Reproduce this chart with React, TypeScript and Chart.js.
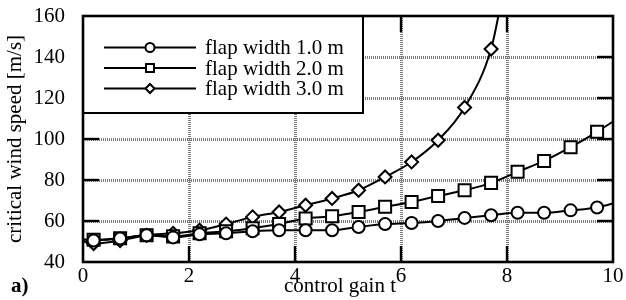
import React, { useEffect, useRef } from 'react';
import { Chart, registerables } from 'chart.js';

Chart.register(...registerables);

const FONT = '"Liberation Serif", "Times New Roman", serif';

const seriesLabels = ['flap width 1.0 m', 'flap width 2.0 m', 'flap width 3.0 m'];

const t1 = [0, 0.2, 0.7, 1.2, 1.7, 2.2, 2.7, 3.2, 3.7, 4.2, 4.7, 5.2, 5.7, 6.2, 6.7, 7.2, 7.7, 8.2, 8.7, 9.2, 9.7, 10];
const v1 = [51, 50.5, 51.5, 53, 52, 53.5, 54, 55, 55.5, 55.5, 55.5, 57.1, 58.5, 59, 60, 61.5, 62.8, 64, 64, 65.2, 66.6, 68.5];

const t2 = [0, 0.2, 0.7, 1.2, 1.7, 2.2, 2.7, 3.2, 3.7, 4.2, 4.7, 5.2, 5.7, 6.2, 6.7, 7.2, 7.7, 8.2, 8.7, 9.2, 9.7, 10];
const v2 = [51, 50.8, 51.6, 53, 52.5, 54, 55, 56.5, 58.5, 61.2, 62.3, 64.4, 66.9, 69.3, 72.2, 75, 78.6, 84, 89.3, 96, 103.5, 108.5];

const t3 = [0, 0.2, 0.7, 1.2, 1.7, 2.2, 2.7, 3.2, 3.7, 4.2, 4.7, 5.2, 5.7, 6.2, 6.7, 7.2, 7.7, 7.9];
const v3 = [50, 49, 50.5, 53, 54, 55.5, 58.5, 62, 64.4, 67.7, 71, 75, 81.5, 88.8, 99.4, 115.4, 143.9, 168];

const xTitle = 'control gain t';
const yTitle = 'critical wind speed [m/s]';
const panelLabel = 'a)';

const markerStyles = ['circle', 'rect', 'rectRot'];
const markerRadius = [6, 8.5, 6.5];
const legendMarkerSize = [4.5, 4, 4.5];

function drawMarker(ctx: CanvasRenderingContext2D, style: string, x: number, y: number, r: number) {
  ctx.beginPath();
  if (style === 'circle') {
    ctx.arc(x, y, r, 0, Math.PI * 2);
  } else if (style === 'rect') {
    ctx.rect(x - r, y - r, 2 * r, 2 * r);
  } else {
    ctx.moveTo(x, y - r);
    ctx.lineTo(x + r, y);
    ctx.lineTo(x, y + r);
    ctx.lineTo(x - r, y);
    ctx.closePath();
  }
  ctx.fillStyle = '#fff';
  ctx.fill();
  ctx.stroke();
}

const framePlugin = {
  id: 'framePlugin',
  beforeDatasetsDraw(chart: any) {
    const { ctx, chartArea: a, scales } = chart;
    const xs = scales.x, ys = scales.y;
    ctx.save();
    ctx.strokeStyle = '#7a7a7a';
    ctx.lineWidth = 3;
    ctx.setLineDash([1, 1]);
    xs.ticks.forEach((tk: any) => {
      const px = Math.round(xs.getPixelForValue(tk.value)) + 0.5;
      if (Math.abs(px - a.left) < 2 || Math.abs(px - a.right) < 2) return;
      ctx.beginPath(); ctx.moveTo(px, a.top); ctx.lineTo(px, a.bottom); ctx.stroke();
    });
    ys.ticks.forEach((tk: any) => {
      const py = Math.round(ys.getPixelForValue(tk.value)) + 0.5;
      if (Math.abs(py - a.top) < 2 || Math.abs(py - a.bottom) < 2) return;
      ctx.beginPath(); ctx.moveTo(a.left, py); ctx.lineTo(a.right, py); ctx.stroke();
    });
    ctx.restore();
  },
  afterDatasetsDraw(chart: any) {
    const { ctx, chartArea: a, scales } = chart;
    const xs = scales.x, ys = scales.y;
    ctx.save();
    // legend box
    const bx0 = a.left, by0 = a.top, bx1 = a.left + 280, by1 = a.top + 97;
    ctx.fillStyle = '#fff';
    ctx.fillRect(bx0, by0, bx1 - bx0, by1 - by0);
    ctx.strokeStyle = '#000';
    ctx.lineWidth = 2;
    ctx.strokeRect(bx0, by0, bx1 - bx0, by1 - by0);
    const rows = [31.5, 52, 72.5];
    ctx.font = '21px ' + FONT;
    ctx.textBaseline = 'alphabetic';
    ctx.textAlign = 'left';
    chart.data.datasets.forEach((ds: any, i: number) => {
      const ry = a.top + rows[i];
      ctx.strokeStyle = '#000';
      ctx.lineWidth = 2;
      ctx.beginPath(); ctx.moveTo(a.left + 21, ry); ctx.lineTo(a.left + 113, ry); ctx.stroke();
      drawMarker(ctx, markerStyles[i], a.left + 67, ry, legendMarkerSize[i]);
      ctx.fillStyle = '#000';
      ctx.fillText(ds.label, a.left + 122, ry + 6.5);
    });
    // frame
    ctx.strokeStyle = '#000';
    ctx.lineWidth = 2.6;
    ctx.strokeRect(a.left, a.top, a.right - a.left, a.bottom - a.top);
    // inner ticks
    const tl = 16;
    ctx.lineWidth = 2.4;
    xs.ticks.forEach((tk: any) => {
      const px = xs.getPixelForValue(tk.value);
      if (Math.abs(px - a.left) < 2 || Math.abs(px - a.right) < 2) return;
      ctx.beginPath(); ctx.moveTo(px, a.bottom); ctx.lineTo(px, a.bottom - tl); ctx.stroke();
      if (px > bx1 + 2) { ctx.beginPath(); ctx.moveTo(px, a.top); ctx.lineTo(px, a.top + tl); ctx.stroke(); }
    });
    ys.ticks.forEach((tk: any) => {
      const py = ys.getPixelForValue(tk.value);
      if (Math.abs(py - a.top) < 2 || Math.abs(py - a.bottom) < 2) return;
      if (py > by1 + 2) { ctx.beginPath(); ctx.moveTo(a.left, py); ctx.lineTo(a.left + tl, py); ctx.stroke(); }
      ctx.beginPath(); ctx.moveTo(a.right, py); ctx.lineTo(a.right - tl, py); ctx.stroke();
    });
    // titles
    ctx.fillStyle = '#000';
    ctx.font = '21px ' + FONT;
    ctx.textAlign = 'center';
    ctx.textBaseline = 'alphabetic';
    ctx.fillText(xTitle, 340, 292);
    ctx.save();
    ctx.translate(21, (a.top + a.bottom) / 2);
    ctx.rotate(-Math.PI / 2);
    ctx.fillText(yTitle, 0, 0);
    ctx.restore();
    ctx.font = 'bold 21px ' + FONT;
    ctx.textAlign = 'left';
    ctx.fillText(panelLabel, 11, 292);
    ctx.restore();
  },
};

function makeData(ts: number[], vs: number[]) {
  return ts.map((t, i) => ({ x: t, y: vs[i] }));
}

export default function App() {
  const ref = useRef<HTMLCanvasElement | null>(null);
  useEffect(() => {
    document.body.style.margin = '0';
    const canvas = ref.current;
    if (!canvas) return;
    const series = [
      [t1, v1],
      [t2, v2],
      [t3, v3],
    ];
    const datasets = series.map(([ts, vs], i) => ({
      label: seriesLabels[i],
      data: makeData(ts as number[], vs as number[]),
      borderColor: '#000',
      borderWidth: 2,
      backgroundColor: '#fff',
      pointBackgroundColor: '#fff',
      pointBorderColor: '#000',
      pointBorderWidth: 2,
      pointStyle: markerStyles[i],
      pointRadius: (c: any) => (c.dataIndex === 0 || c.dataIndex === ts.length - 1 ? 0 : markerRadius[i]),
      tension: 0.2,
      cubicInterpolationMode: 'monotone',
      fill: false,
    }));
    const chart = new Chart(canvas, {
      type: 'line',
      data: { datasets: datasets as any },
      options: {
        animation: false,
        responsive: false,
        devicePixelRatio: 1,
        layout: { padding: { top: 16, right: 13, left: 0, bottom: 0 } },
        plugins: { legend: { display: false }, tooltip: { enabled: false } },
        scales: {
          x: {
            type: 'linear',
            min: 0,
            max: 10,
            ticks: { stepSize: 2, color: '#000', font: { family: FONT, size: 21 }, padding: 2, maxRotation: 0 },
            grid: { display: false, drawTicks: false },
            border: { display: false },
            afterFit: (s: any) => { s.height = 38; s.paddingLeft = 0; s.paddingRight = 0; },
          },
          y: {
            type: 'linear',
            min: 40,
            max: 160,
            ticks: { stepSize: 20, color: '#000', font: { family: FONT, size: 21 }, padding: 18 },
            grid: { display: false, drawTicks: false },
            border: { display: false },
            afterFit: (s: any) => { s.width = 83; s.paddingTop = 0; s.paddingBottom = 0; },
          },
        },
      },
      plugins: [framePlugin],
    });
    return () => chart.destroy();
  }, []);
  return (
    <div style={{ width: 626, height: 300, position: 'relative', background: '#fff' }}>
      <canvas ref={ref} width={626} height={300} style={{ display: 'block' }} />
    </div>
  );
}
